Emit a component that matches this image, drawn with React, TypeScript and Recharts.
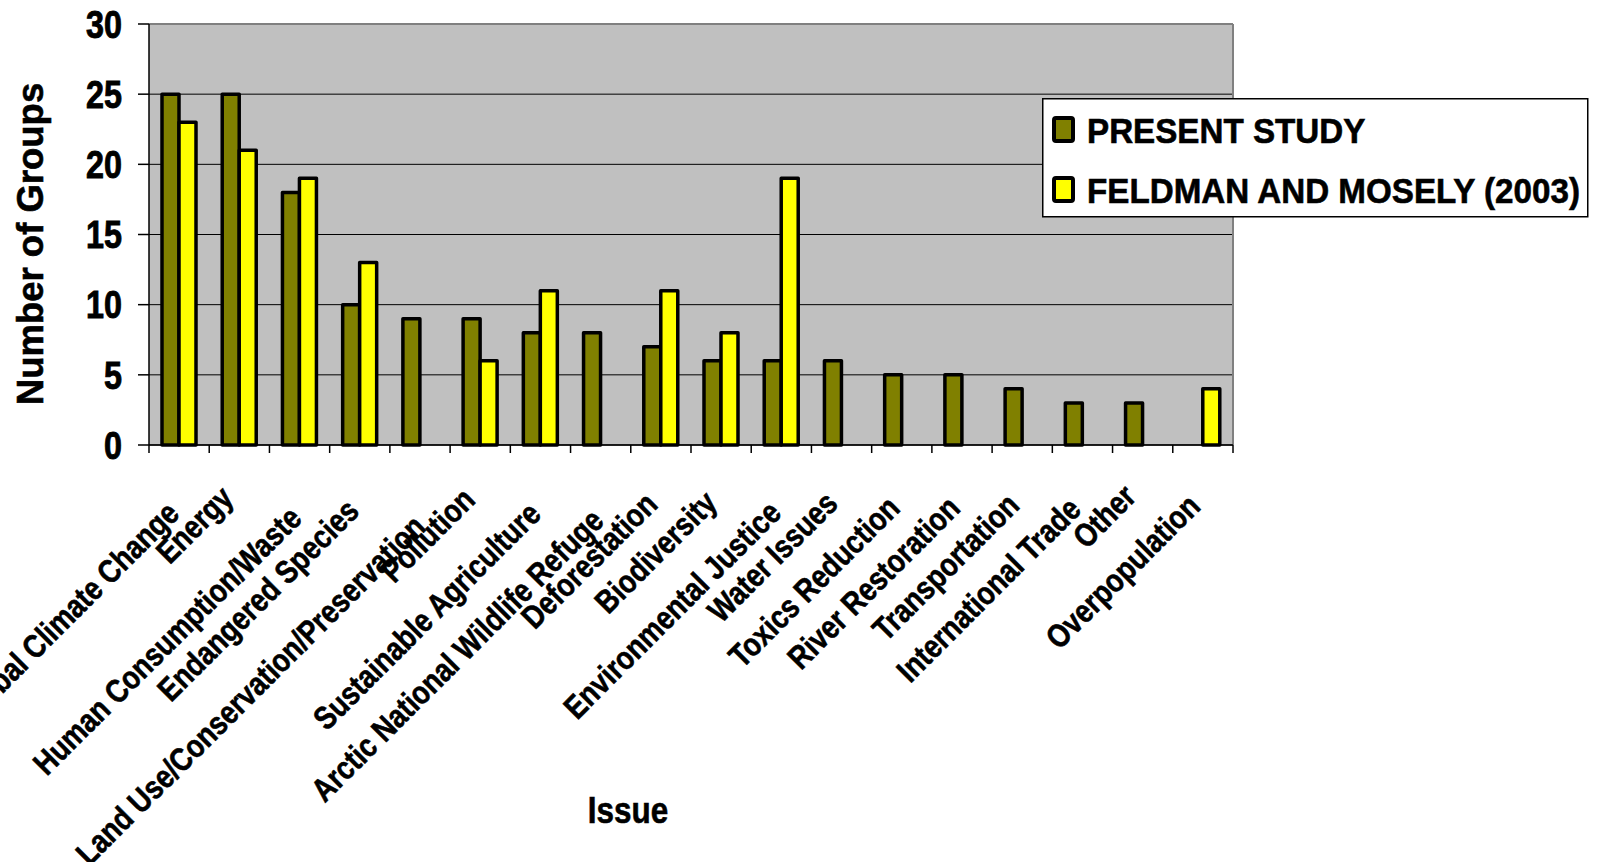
import React from 'react';
import { BarChart, Bar, XAxis, YAxis, CartesianGrid, Legend, ReferenceLine, Label } from 'recharts';

// ---- data ----
const categories = [
  'Global Climate Change',
  'Energy',
  'Human Consumption/Waste',
  'Endangered Species',
  'Land Use/Conservation/Preservation',
  'Pollution',
  'Sustainable Agriculture',
  'Arctic National Wildlife Refuge',
  'Deforestation',
  'Biodiversity',
  'Environmental Justice',
  'Water Issues',
  'Toxics Reduction',
  'River Restoration',
  'Transportation',
  'International Trade',
  'Other',
  'Overpopulation',
];
const presentStudy: (number | null)[] = [25, 25, 18, 10, 9, 9, 8, 8, 7, 6, 6, 6, 5, 5, 4, 3, 3, null];
const feldmanMosely: (number | null)[] = [23, 21, 19, 13, null, 6, 11, null, 11, 8, 19, null, null, null, null, null, null, 4];
const yTicks = [0, 5, 10, 15, 20, 25, 30];
const seriesNames = ['PRESENT STUDY', 'FELDMAN AND MOSELY (2003)'];
const xTitle = 'Issue';
const yTitle = 'Number of Groups';

const data = categories.map((c, i) => ({ issue: c, present: presentStudy[i], feldman: feldmanMosely[i] }));

// ---- layout / style ----
const W = 1600;
const H = 862;
const PLOT_LEFT = 149;
const PLOT_TOP = 24;
const PLOT_RIGHT = 1233;
const PLOT_BOTTOM = 445;
const FONT = "'Liberation Sans', Arial, Helvetica, sans-serif";
const OLIVE = '#808000';
const YELLOW = '#FFFF00';
const XFS = 32.5;
const XSCALE = 0.84;
const BOLDEN = 0.6;

let ctx: CanvasRenderingContext2D | null = null;
function measure(t: string): number {
  if (!ctx) {
    const c = document.createElement('canvas');
    ctx = c.getContext('2d');
  }
  if (!ctx) return t.length * XFS * 0.55;
  ctx.font = `bold ${XFS}px ${FONT}`;
  return ctx.measureText(t).width;
}

const XTick = (props: any) => {
  const { x, payload, index } = props;
  const band = (PLOT_RIGHT - PLOT_LEFT) / categories.length;
  const L = measure(String(payload.value)) * XSCALE;
  const ex = x - 7 + 0.03 * L;
  const ey = PLOT_BOTTOM + 48 + 0.075 * L;
  return (
    <g>
      <line x1={x - band / 2} y1={PLOT_BOTTOM} x2={x - band / 2} y2={PLOT_BOTTOM + 8} stroke="#000" strokeWidth={1.5} />
      {index === categories.length - 1 && (
        <line x1={x + band / 2} y1={PLOT_BOTTOM} x2={x + band / 2} y2={PLOT_BOTTOM + 8} stroke="#000" strokeWidth={1.5} />
      )}
      <text
        transform={`translate(${ex},${ey}) rotate(-45) scale(${XSCALE},1)`}
        textAnchor="end"
        fontSize={XFS}
        fontWeight="bold"
        fontFamily={FONT}
        fill="#000"
        stroke="#000"
        strokeWidth={BOLDEN}
      >
        {payload.value}
      </text>
    </g>
  );
};

const YTick = (props: any) => {
  const { x, y, payload } = props;
  return (
    <text
      transform={`translate(${x},${y}) scale(0.84,1)`}
      textAnchor="end"
      dy="0.355em"
      fontSize={38.5}
      fontWeight="bold"
      fontFamily={FONT}
      fill="#000"
      stroke="#000"
      strokeWidth={BOLDEN + 0.3}
    >
      {payload.value}
    </text>
  );
};

const LegendBox = () => (
  <svg width={548} height={120} style={{ display: 'block' }}>
    <rect x={0.75} y={0.75} width={545} height={118} fill="#fff" stroke="#000" strokeWidth={1.5} />
    <rect x={12} y={20} width={19} height={23} rx={2} fill={OLIVE} stroke="#000" strokeWidth={4} />
    <text transform="translate(45,45) scale(0.935,1)" fontSize={35.5} fontWeight="bold" fontFamily={FONT} fill="#000" stroke="#000" strokeWidth={BOLDEN}>
      {seriesNames[0]}
    </text>
    <rect x={12} y={80} width={19} height={23} rx={2} fill={YELLOW} stroke="#000" strokeWidth={4} />
    <text transform="translate(45,105) scale(0.935,1)" fontSize={35.5} fontWeight="bold" fontFamily={FONT} fill="#000" stroke="#000" strokeWidth={BOLDEN}>
      {seriesNames[1]}
    </text>
  </svg>
);

export default function App() {
  return (
    <div style={{ position: 'absolute', left: 0, top: 0, width: W, height: H, background: '#fff' }}>
      <BarChart
        width={W}
        height={H}
        data={data}
        margin={{ top: PLOT_TOP, right: W - PLOT_RIGHT, bottom: 0, left: 0 }}
        barGap={0}
        barSize={17}
      >
        <CartesianGrid vertical={false} fill="#C0C0C0" stroke="#000" strokeWidth={1} />
        <CartesianGrid
          horizontal={false}
          stroke="#808080"
          strokeWidth={2}
          verticalCoordinatesGenerator={({ offset }: any) => [offset.left + offset.width]}
        />
        <ReferenceLine y={30} stroke="#808080" strokeWidth={2} />
        <XAxis
          dataKey="issue"
          interval={0}
          height={H - PLOT_BOTTOM}
          tickLine={false}
          axisLine={{ stroke: '#000', strokeWidth: 1.5 }}
          tick={<XTick />}
        >
          <Label
            content={() => (
              <text
                transform={`translate(628,823) scale(0.85,1)`}
                textAnchor="middle"
                fontSize={37}
                fontWeight="bold"
                fontFamily={FONT}
                fill="#000"
                stroke="#000"
                strokeWidth={BOLDEN}
              >
                {xTitle}
              </text>
            )}
          />
        </XAxis>
        <YAxis
          width={PLOT_LEFT}
          domain={[0, 30]}
          ticks={yTicks}
          interval={0}
          tickSize={11}
          tickMargin={16}
          tickLine={{ stroke: '#000', strokeWidth: 1.5 }}
          axisLine={{ stroke: '#000', strokeWidth: 1.5 }}
          tick={<YTick />}
        >
          <Label
            content={() => (
              <text
                transform="translate(43,244) rotate(-90)"
                textAnchor="middle"
                fontSize={36.5}
                fontWeight="bold"
                fontFamily={FONT}
                fill="#000"
                stroke="#000"
                strokeWidth={BOLDEN}
              >
                {yTitle}
              </text>
            )}
          />
        </YAxis>
        <Legend
          layout="vertical"
          align="center"
          verticalAlign="middle"
          content={<LegendBox />}
          wrapperStyle={{ position: 'absolute', left: 1042, top: 98, width: 548, height: 120 }}
        />
        <Bar dataKey="present" name={seriesNames[0]} fill={OLIVE} stroke="#000" strokeWidth={3.5} strokeLinejoin="round" isAnimationActive={false} />
        <Bar dataKey="feldman" name={seriesNames[1]} fill={YELLOW} stroke="#000" strokeWidth={3.5} strokeLinejoin="round" isAnimationActive={false} />
      </BarChart>
    </div>
  );
}
